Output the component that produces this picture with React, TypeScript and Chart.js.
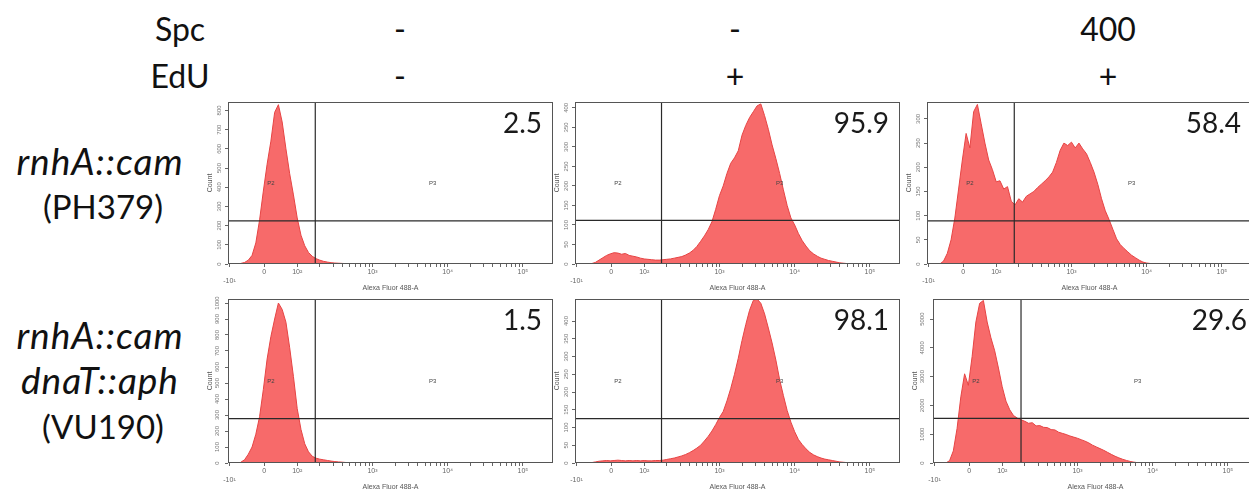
import React, { useEffect, useRef } from 'react';
import { Chart, registerables } from 'chart.js';

Chart.register(...registerables);

// ---------- data ----------
const spcLabels = ['-', '-', '400'];
const eduLabels = ['-', '+', '+'];
const strainLabels = [
  ['rnhA::cam', '(PH379)'],
  ['rnhA::cam', 'dnaT::aph', '(VU190)'],
];
const p3Percent = [
  ['2.5', '95.9', '58.4'],
  ['1.5', '98.1', '29.6'],
];

// bin centres in display units (2 = 10^2, 3 = 10^3 ...)
const binCenters = [
  1.25, 1.3, 1.35, 1.4, 1.45, 1.5, 1.55, 1.6, 1.65, 1.7,
  1.75, 1.8, 1.85, 1.9, 1.95, 2.0, 2.05, 2.1, 2.15, 2.2,
  2.25, 2.3, 2.35, 2.4, 2.45, 2.5, 2.55, 2.6, 2.65, 2.7,
  2.75, 2.8, 2.85, 2.9, 2.95, 3.0, 3.05, 3.1, 3.15, 3.2,
  3.25, 3.3, 3.35, 3.4, 3.45, 3.5, 3.55, 3.6, 3.65, 3.7,
  3.75, 3.8, 3.85, 3.9, 3.95, 4.0, 4.05, 4.1, 4.15, 4.2,
  4.25, 4.3, 4.35, 4.4, 4.45, 4.5, 4.55, 4.6, 4.65, 4.7,
  4.75,
];

const countsR1C1 = [
  3, 8, 20, 45, 110, 230, 380, 520, 640, 790,
  830, 740, 600, 470, 360, 240, 150, 95, 60, 40,
  28, 20, 14, 10, 7, 5, 4, 3, 2, 1,
  1, 1, 0, 0, 0, 0, 0, 0, 0, 0,
  0, 0, 0, 0, 0, 0, 0, 0, 0, 0,
  0, 0, 0, 0, 0, 0, 0, 0, 0, 0,
  0, 0, 0, 0, 0, 0, 0, 0, 0, 0,
  0,
];
const countsR1C2 = [
  0, 1, 4, 10, 16, 22, 26, 29, 28, 25,
  27, 22, 20, 18, 15, 13, 12, 11, 10, 10,
  11, 12, 13, 15, 17, 19, 23, 28, 35, 45,
  58, 72, 88, 108, 140, 175, 200, 232, 258, 272,
  290, 330, 355, 375, 390, 405, 410, 380, 345, 305,
  270, 232, 190, 150, 118, 100, 78, 60, 46, 34,
  26, 20, 15, 12, 9, 7, 5, 3, 2, 1,
  0,
];
const countsR1C3 = [
  0, 6, 22, 50, 95, 155, 215, 270, 240, 315,
  330, 290, 250, 215, 195, 170, 172, 155, 160, 130,
  122, 135, 128, 140, 145, 150, 158, 165, 172, 180,
  190, 210, 235, 250, 245, 252, 240, 250, 238, 228,
  210, 190, 165, 135, 110, 92, 72, 52, 40, 32,
  25, 18, 13, 8, 4, 2, 1, 0, 0, 0,
  0, 0, 0, 0, 0, 0, 0, 0, 0, 0,
  0,
];
const countsR2C1 = [
  5, 20, 55, 100, 180, 290, 460, 650, 790, 900,
  1000, 960, 880, 720, 540, 340, 210, 120, 70, 42,
  30, 24, 20, 16, 12, 9, 7, 5, 3, 2,
  1, 0, 0, 0, 0, 0, 0, 0, 0, 0,
  0, 0, 0, 0, 0, 0, 0, 0, 0, 0,
  0, 0, 0, 0, 0, 0, 0, 0, 0, 0,
  0, 0, 0, 0, 0, 0, 0, 0, 0, 0,
  0,
];
const countsR2C2 = [
  0, 1, 3, 5, 6, 7, 6, 7, 8, 7,
  6, 7, 6, 7, 6, 7, 6, 6, 7, 7,
  8, 10, 12, 14, 17, 20, 24, 29, 35, 42,
  50, 62, 75, 90, 108, 128, 145, 175, 210, 250,
  295, 345, 390, 430, 458, 462, 450, 420, 380, 338,
  290, 235, 190, 148, 115, 88, 66, 52, 40, 30,
  23, 18, 14, 11, 9, 7, 5, 3, 2, 1,
  0,
];
const countsR2C3 = [
  0, 80, 420, 1200, 2300, 3100, 2700, 3700, 4900, 5550,
  5650, 4900, 4350, 3900, 3300, 2650, 2150, 1850, 1650, 1560,
  1500, 1450, 1380, 1400, 1290, 1300, 1240, 1230, 1160, 1150,
  1070, 1030, 990, 940, 900, 860, 810, 760, 700, 620,
  560, 500, 440, 370, 300, 235, 180, 130, 90, 55,
  30, 12, 4, 0, 0, 0, 0, 0, 0, 0,
  0, 0, 0, 0, 0, 0, 0, 0, 0, 0,
  0,
];
const panelCounts = [
  [countsR1C1, countsR1C2, countsR1C3],
  [countsR2C1, countsR2C2, countsR2C3],
];

const yMaxes = [
  [844, 415, 335],
  [1025, 462, 5700],
];
const yTickSteps = [
  [100, 50, 50],
  [100, 50, 1000],
];
const gateCounts = [
  [225, 112, 89],
  [277, 125, 1550],
];
const gateFluor = [
  [2.24, 2.23, 2.24],
  [2.24, 2.23, 2.25],
];

const xTickValues = [1.1, 1.56, 2, 3, 4, 5];
const xTickLabels = ['-10¹', '0', '10²', '10³', '10⁴', '10⁵'];
const X_MIN = 1.08;
const X_MAX = 5.4;

// ---------- layout ----------
const colLefts = [
  [228, 575, 927],
  [228, 575, 933],
];
const rowTops = [102, 299];
const rowHeights = [162, 164];
const BOX_W = 325;
const Y_AXIS_W = 22;
const X_AXIS_H = 28;
const PAD_TOP = 4;
const PAD_RIGHT = 4;

const FONT = 'Lato, "Open Sans", sans-serif';
const SMALL_FONT = '"Liberation Sans", Arial, sans-serif';

const decorPlugin = {
  id: 'panelDecor',
  afterDatasetsDraw(chart: any, _args: any, opts: any) {
    const { ctx, chartArea: a, scales } = chart;
    const x = scales.x;
    const y = scales.y;
    ctx.save();
    ctx.strokeStyle = '#555';
    ctx.lineWidth = 1;
    ctx.strokeRect(a.left + 0.5, a.top + 0.5, a.width - 1, a.height - 1);
    ctx.font = `6px ${SMALL_FONT}`;
    ctx.fillStyle = '#444';
    ctx.textAlign = 'center';
    ctx.textBaseline = 'middle';
    const ly = y.getPixelForValue(opts.labelY);
    ctx.fillText('P2', x.getPixelForValue(1.65), ly);
    ctx.fillText('P3', x.getPixelForValue(3.8), ly);
    ctx.font = `28px ${FONT}`;
    ctx.fillStyle = '#1a1a1a';
    ctx.textAlign = 'right';
    ctx.textBaseline = 'alphabetic';
    ctx.fillText(opts.value, a.right - 11, a.top + 31);
    ctx.restore();
  },
};

function Panel({ r, c }: { r: number; c: number }) {
  const ref = useRef<HTMLCanvasElement>(null);
  const boxLeft = colLefts[r][c];
  const boxTop = rowTops[r];
  const boxH = rowHeights[r];
  const W = Y_AXIS_W + BOX_W + PAD_RIGHT;
  const H = PAD_TOP + boxH + X_AXIS_H;

  useEffect(() => {
    const counts = panelCounts[r][c];
    const yMax = yMaxes[r][c];
    const step = yTickSteps[r][c];
    const gate = gateCounts[r][c];
    const gx = gateFluor[r][c];
    const chart = new Chart(ref.current as HTMLCanvasElement, {
      type: 'line',
      data: {
        datasets: [
          {
            data: [
              { x: X_MIN, y: gate },
              { x: X_MAX, y: gate },
            ],
            borderColor: '#2a2a2a',
            borderWidth: 1.2,
            pointRadius: 0,
            fill: false,
            order: 0,
          },
          {
            data: [
              { x: gx, y: 0 },
              { x: gx, y: yMax },
            ],
            borderColor: '#2a2a2a',
            borderWidth: 1.2,
            pointRadius: 0,
            fill: false,
            order: 1,
          },
          {
            data: binCenters.map((b, i) => ({ x: b, y: counts[i] })),
            borderColor: 'rgb(230,68,68)',
            backgroundColor: 'rgb(247,106,106)',
            borderWidth: 1,
            pointRadius: 0,
            fill: 'origin',
            tension: 0,
            order: 2,
          },
        ],
      },
      options: {
        animation: false,
        responsive: false,
        maintainAspectRatio: false,
        events: [],
        layout: { padding: { top: PAD_TOP, right: PAD_RIGHT, left: 0, bottom: 0 } },
        plugins: {
          legend: { display: false },
          tooltip: { enabled: false },
          panelDecor: { value: p3Percent[r][c], labelY: yMax * 0.5 },
        } as any,
        scales: {
          x: {
            type: 'linear',
            min: X_MIN,
            max: X_MAX,
            border: { display: false },
            grid: { display: true, drawOnChartArea: false, drawTicks: true, tickLength: 3, color: '#666' },
            afterBuildTicks: (s: any) => {
              const t = xTickValues.map((v) => ({ value: v }));
              const minor: any[] = [];
              [2, 3, 4].forEach((d) => {
                for (let k = 2; k <= 9; k++) minor.push({ value: d + Math.log10(k) });
              });
              s.ticks = t.concat(minor).sort((a: any, b: any) => a.value - b.value);
            },
            afterFit: (s: any) => {
              s.height = X_AXIS_H;
              s.paddingLeft = 0;
              s.paddingRight = 0;
            },
            ticks: {
              autoSkip: false,
              maxRotation: 0,
              minRotation: 0,
              padding: 1,
              color: '#666',
              font: { size: 7, family: SMALL_FONT },
              callback: (v: any) => {
                const i = xTickValues.findIndex((t) => Math.abs(t - v) < 1e-6);
                if (i < 0) return '';
                return i === 0 ? ['', xTickLabels[i]] : xTickLabels[i];
              },
            },
            title: {
              display: true,
              text: 'Alexa Fluor 488-A',
              color: '#555',
              font: { size: 7, family: SMALL_FONT },
              padding: { top: 0, bottom: 0 },
            },
          },
          y: {
            min: 0,
            max: yMax,
            border: { display: false },
            grid: { display: true, drawOnChartArea: false, drawTicks: true, tickLength: 3, color: '#666' },
            afterBuildTicks: (s: any) => {
              const t: any[] = [];
              for (let v = 0; v <= yMax - step * 0.25; v += step) t.push({ value: v });
              s.ticks = t;
            },
            afterFit: (s: any) => {
              s.width = Y_AXIS_W;
              s.paddingTop = 0;
              s.paddingBottom = 0;
            },
            ticks: {
              autoSkip: false,
              minRotation: 90,
              maxRotation: 90,
              crossAlign: 'center',
              padding: 1,
              color: '#777',
              font: { size: 6, family: SMALL_FONT },
              callback: (v: any) => String(Math.round(v)),
            },
            title: {
              display: true,
              text: 'Count',
              color: '#555',
              font: { size: 7, family: SMALL_FONT },
              padding: { top: 0, bottom: 1 },
            },
          },
        },
      },
      plugins: [decorPlugin],
    } as any);
    return () => chart.destroy();
  }, [r, c]);

  return (
    <canvas
      ref={ref}
      width={W}
      height={H}
      style={{
        position: 'absolute',
        left: boxLeft - Y_AXIS_W,
        top: boxTop - PAD_TOP,
        width: W,
        height: H,
      }}
    />
  );
}

const headerCols = [400, 735, 1108];

export default function App() {
  const textBase: React.CSSProperties = {
    position: 'absolute',
    fontFamily: FONT,
    fontSize: 32,
    lineHeight: '32px',
    color: '#111',
    textAlign: 'center',
    whiteSpace: 'nowrap',
  };
  const italic: React.CSSProperties = {
    fontStyle: 'italic',
    fontSize: 37,
    lineHeight: '37px',
    letterSpacing: 1,
  };
  return (
    <div style={{ position: 'relative', width: 1249, height: 490, overflow: 'hidden', background: '#fff' }}>
      <style>{'body{margin:0;background:#fff}'}</style>
      <div style={{ ...textBase, left: 130, width: 100, top: 13 }}>Spc</div>
      <div style={{ ...textBase, left: 130, width: 100, top: 60 }}>EdU</div>
      {spcLabels.map((s, i) => (
        <div key={'s' + i} style={{ ...textBase, left: headerCols[i] - 60, width: 120, top: 13 }}>
          {s}
        </div>
      ))}
      {eduLabels.map((s, i) => (
        <div key={'e' + i} style={{ ...textBase, left: headerCols[i] - 60, width: 120, top: 60 }}>
          {s}
        </div>
      ))}
      {strainLabels[0].map((s, i) => (
        <div
          key={'a' + i}
          style={
            i === 0
              ? { ...textBase, ...italic, left: 0, width: 200, top: 142 }
              : { ...textBase, fontSize: 33, left: 3, width: 200, top: 190 }
          }
        >
          {s}
        </div>
      ))}
      {strainLabels[1].map((s, i) => (
        <div
          key={'b' + i}
          style={
            i < 2
              ? { ...textBase, ...italic, left: 0, width: 200, top: 316 + i * 45 }
              : { ...textBase, fontSize: 33, left: 3, width: 200, top: 410 }
          }
        >
          {s}
        </div>
      ))}
      {[0, 1].map((r) => [0, 1, 2].map((c) => <Panel key={`${r}-${c}`} r={r} c={c} />))}
    </div>
  );
}
